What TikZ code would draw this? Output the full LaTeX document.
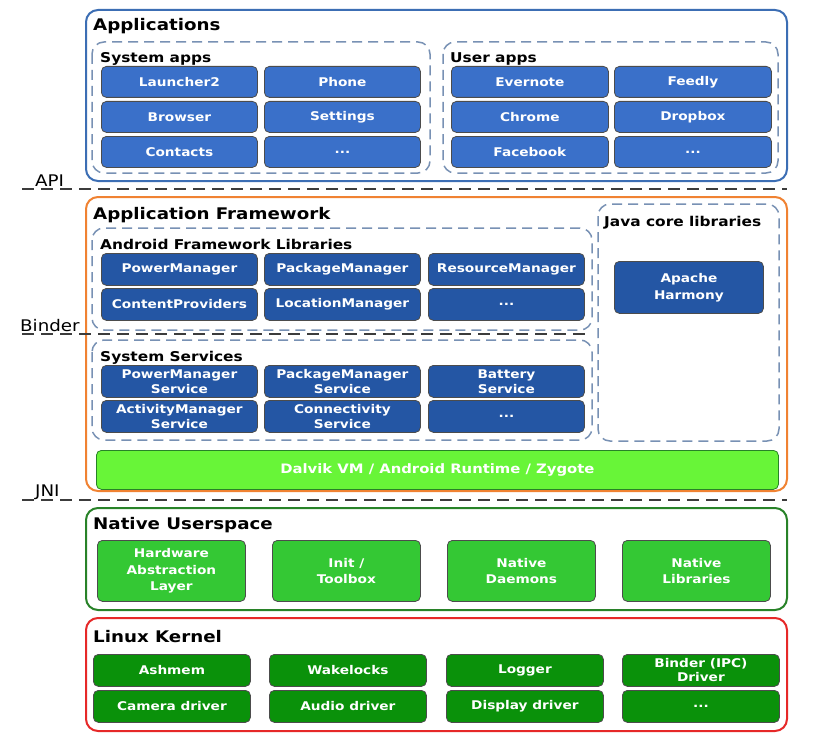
\documentclass[tikz,border=0pt]{standalone}
\usepackage{fontspec}
\setmainfont{DejaVu Sans}[FakeStretch=1.14]
\usetikzlibrary{positioning}

\definecolor{appblue}{RGB}{58,112,201}
\definecolor{fwblue}{RGB}{36,86,164}
\definecolor{dalvikgreen}{RGB}{104,245,56}
\definecolor{nativegreen}{RGB}{52,200,52}
\definecolor{kernelgreen}{RGB}{10,145,10}
\definecolor{appsline}{RGB}{60,110,180}
\definecolor{fwline}{RGB}{240,130,50}
\definecolor{nativeline}{RGB}{40,130,40}
\definecolor{kernelline}{RGB}{230,40,40}
\definecolor{dashline}{RGB}{120,145,180}
\definecolor{sepline}{RGB}{60,60,60}

\newcommand{\layerfont}{\fontsize{16}{18}\selectfont\bfseries}
\newcommand{\groupfont}{\fontsize{13.5}{15}\selectfont\bfseries}
\newcommand{\btnfont}{\fontsize{12}{15}\selectfont\bfseries}
\newcommand{\seplabelfont}{\fontsize{16}{18}\selectfont}

\tikzset{
	layer/.style={line width=2pt, rounded corners=12pt},
	group/.style={draw=dashline, line width=1.5pt, dash pattern=on 10pt off 6pt, rounded corners=12pt},
	sep/.style={draw=sepline, line width=1.6pt, dash pattern=on 12pt off 7pt},
	btn/.style={draw=black!70, line width=0.8pt, rounded corners=5pt, text=white, align=center, anchor=north west, inner sep=0pt, font=\btnfont},
	appbtn/.style={btn, fill=appblue, minimum width=156pt, minimum height=31pt},
	fwbtn/.style={btn, fill=fwblue, minimum width=156pt, minimum height=32pt},
	nativebtn/.style={btn, fill=nativegreen, minimum width=148pt, minimum height=61pt, font=\fontsize{12}{16.5}\selectfont\bfseries},
	kernelbtn/.style={btn, fill=kernelgreen, minimum width=157pt, minimum height=32pt, font=\fontsize{12}{14}\selectfont\bfseries},
	layertitle/.style={anchor=base west, inner sep=0pt, font=\layerfont},
	grouptitle/.style={anchor=base west, inner sep=0pt, font=\groupfont},
	seplabel/.style={anchor=base west, inner sep=0pt, font=\seplabelfont}
}

\begin{document}
\begin{tikzpicture}[x=1pt, y=-1pt]
	\useasboundingbox[fill=white] (0,0) rectangle (828,752);

	% Applications
	\draw[layer, draw=appsline] (86,10) rectangle (787,181);
	\node[layertitle] (apps) at (93,31) {Applications};
	\draw[group] (92,42) rectangle (430,173);
	\draw[group] (443,42) rectangle (778,173);
	\node[grouptitle] (sysapps) at (100,63) {System apps};
	\node[grouptitle] (userapps) at (450,63) {User apps};

	\node[appbtn] (launcher) at (101,66) {Launcher2};
	\node[appbtn] (phone) at (264,66) {Phone};
	\node[appbtn] (browser) at (101,101) {Browser};
	\node[appbtn] (settings) at (264,101) {Settings};
	\node[appbtn] (contacts) at (101,136) {Contacts};
	\node[appbtn] (sysmore) at (264,136) {...};

	\node[appbtn, minimum width=157pt] (evernote) at (451,66) {Evernote};
	\node[appbtn, minimum width=157pt] (feedly) at (614,66) {Feedly};
	\node[appbtn, minimum width=157pt] (chrome) at (451,101) {Chrome};
	\node[appbtn, minimum width=157pt] (dropbox) at (614,101) {Dropbox};
	\node[appbtn, minimum width=157pt] (facebook) at (451,136) {Facebook};
	\node[appbtn, minimum width=157pt] (usermore) at (614,136) {...};

	% API
	\coordinate (api-l) at (22,189);
	\coordinate (api-r) at (787,189);
	\draw[sep] (api-l) -- (api-r);
	\node[seplabel] (api) at (35,186) {API};

	% Application Framework
	\draw[layer, draw=fwline] (86,197) rectangle (787,491);
	\node[layertitle] (fw) at (93,219) {Application Framework};
	\draw[group] (92,228) rectangle (592,330);
	\node[grouptitle] (fwlibs) at (100,249) {Android Framework Libraries};
	\node[fwbtn] (powermgr) at (101,253) {PowerManager};
	\node[fwbtn] (packagemgr) at (264,253) {PackageManager};
	\node[fwbtn] (resourcemgr) at (428,253) {ResourceManager};
	\node[fwbtn] (providers) at (101,288) {ContentProviders};
	\node[fwbtn] (locationmgr) at (264,288) {LocationManager};
	\node[fwbtn] (libmore) at (428,288) {...};

	\coordinate (binder-l) at (22,334);
	\coordinate (binder-r) at (588,334);
	\draw[sep] (binder-l) -- (binder-r);
	\node[seplabel] (binder) at (20,331) {Binder};

	\draw[group] (92,340) rectangle (592,440);
	\node[grouptitle] (services) at (100,361) {System Services};
	\node[fwbtn] (powersvc) at (101,365) {PowerManager\\Service};
	\node[fwbtn] (packagesvc) at (264,365) {PackageManager\\Service};
	\node[fwbtn] (batterysvc) at (428,365) {Battery\\Service};
	\node[fwbtn] (activitysvc) at (101,400) {ActivityManager\\Service};
	\node[fwbtn] (connsvc) at (264,400) {Connectivity\\Service};
	\node[fwbtn] (svcmore) at (428,400) {...};

	\draw[group] (598,204) rectangle (779,441);
	\node[grouptitle] (javalibs) at (604,226) {Java core libraries};
	\node[fwbtn, minimum width=149pt, minimum height=52pt, font=\fontsize{12}{17}\selectfont\bfseries] (harmony) at (614,261) {Apache\\Harmony};

	\node[btn, fill=dalvikgreen, draw=nativeline, minimum width=682pt, minimum height=39pt, font=\fontsize{13}{15}\selectfont\bfseries] (dalvik) at (96,450) {Dalvik VM / Android Runtime / Zygote};

	% JNI
	\coordinate (jni-l) at (22,500);
	\coordinate (jni-r) at (787,500);
	\draw[sep] (jni-l) -- (jni-r);
	\node[seplabel] (jni) at (35,496) {JNI};

	% Native Userspace
	\draw[layer, draw=nativeline] (86,508) rectangle (787,610);
	\node[layertitle] (native) at (93,529) {Native Userspace};
	\node[nativebtn] (hal) at (97,540) {Hardware\\Abstraction\\Layer};
	\node[nativebtn] (init) at (272,540) {Init /\\Toolbox};
	\node[nativebtn] (daemons) at (447,540) {Native\\Daemons};
	\node[nativebtn] (nativelibs) at (622,540) {Native\\Libraries};

	% Linux Kernel
	\draw[layer, draw=kernelline] (86,618) rectangle (787,731);
	\node[layertitle] (kernel) at (93,642) {Linux Kernel};
	\node[kernelbtn] (ashmem) at (93,654) {Ashmem};
	\node[kernelbtn] (wakelocks) at (269,654) {Wakelocks};
	\node[kernelbtn] (logger) at (446,654) {Logger};
	\node[kernelbtn] (binderdrv) at (622,654) {Binder (IPC)\\Driver};
	\node[kernelbtn] (camera) at (93,690) {Camera driver};
	\node[kernelbtn] (audio) at (269,690) {Audio driver};
	\node[kernelbtn] (display) at (446,690) {Display driver};
	\node[kernelbtn] (drvmore) at (622,690) {...};
\end{tikzpicture}
\end{document}
